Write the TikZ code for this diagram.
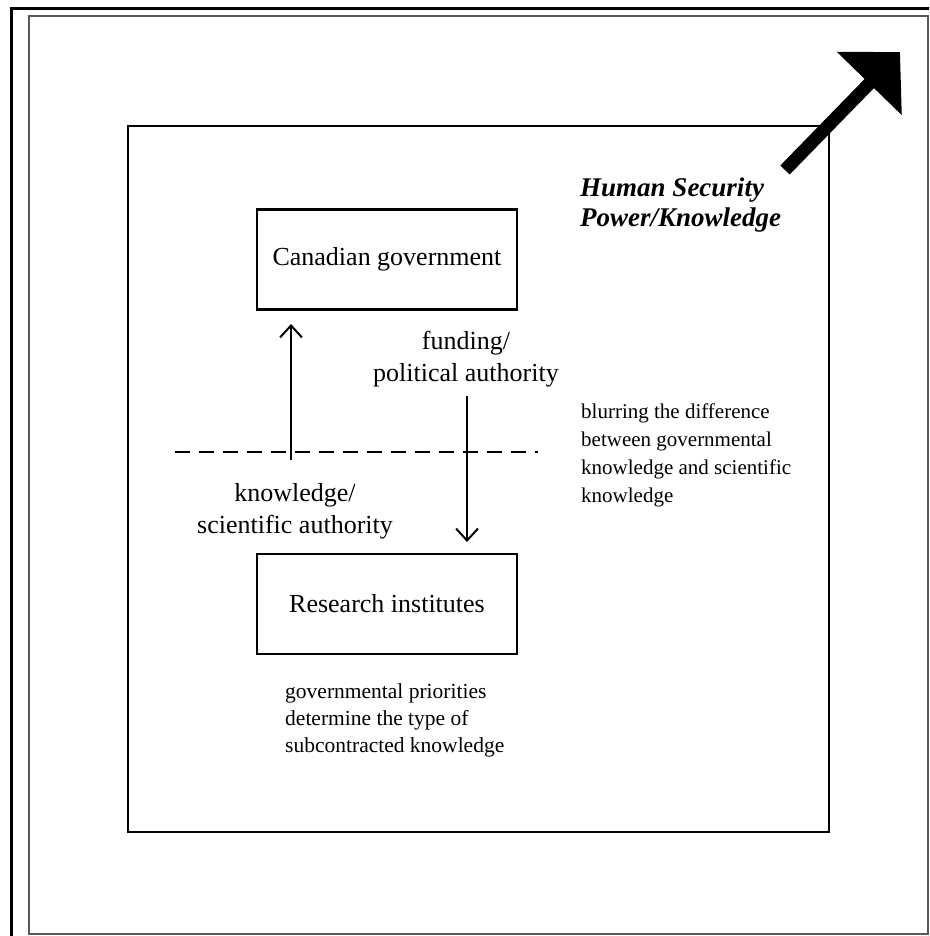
\documentclass[tikz,border=0pt]{standalone}
\usepackage{fontspec}
\setmainfont{Liberation Serif}
\usetikzlibrary{matrix,arrows.meta}

\begin{document}
\begin{tikzpicture}[x=1pt,y=-1pt,
  box/.style={draw,line width=2.5pt,minimum width=260pt,minimum height=100pt,
    inner sep=0pt,font=\fontsize{26}{31}\selectfont},
  note/.style={align=left,inner sep=0pt,anchor=north west},
  flow/.style={line width=2pt,-{Straight Barb[length=12pt,width=22pt]}},
  flowlabel/.style={align=center,inner sep=0pt,font=\fontsize{26}{32}\selectfont}]

\useasboundingbox (0,0) rectangle (929,936);
\clip (0,0) rectangle (929,936);

% page frame
\draw [line width=3pt] (11,9) rectangle (960,960);
\draw [line width=1.5pt,black!65] (29,16) rectangle (928,934);

% power/knowledge field
\draw [line width=2.5pt] (128,126) rectangle (829,832);

\matrix (m) [matrix of nodes,row sep=242pt,nodes={box},inner sep=0pt] at (387,431.5)
{ Canadian government \\
  Research institutes \\
} ;

\coordinate (blur-l) at (175,452);
\coordinate (blur-r) at (538,452);
\coordinate (kn-tail) at (291,460);
\coordinate (kn-tip) at (291,324);
\coordinate (fu-tail) at (467,396);
\coordinate (fu-tip) at (467,542);
\coordinate (hs-tail) at (785,170);
\coordinate (hs-tip) at (900,52);

\draw [line width=2pt,dash pattern=on 15pt off 9pt] (blur-l) -- (blur-r);

\path [flow]

(kn-tail)
edge
(kn-tip)

(fu-tail)
edge
(fu-tip)

;

\draw [line width=13pt,-{Triangle[length=44pt,width=88pt]}] (hs-tail) -- (hs-tip);

\node (funding) [flowlabel] at (466,359) {funding/\\political authority};
\node (knowledge) [flowlabel] at (295,511) {knowledge/\\scientific authority};

\node (hsk) [note,font=\fontsize{27}{30}\selectfont\bfseries\itshape] at (580,177.5)
  {Human Security\\Power/Knowledge};
\node (blur) [note,font=\fontsize{21}{28}\selectfont] at (581,404)
  {blurring the difference\\between governmental\\knowledge and scientific\\knowledge};
\node (prio) [note,font=\fontsize{21.5}{27}\selectfont] at (285,683)
  {governmental priorities\\determine the type of\\subcontracted knowledge};
\end{tikzpicture}
\end{document}
